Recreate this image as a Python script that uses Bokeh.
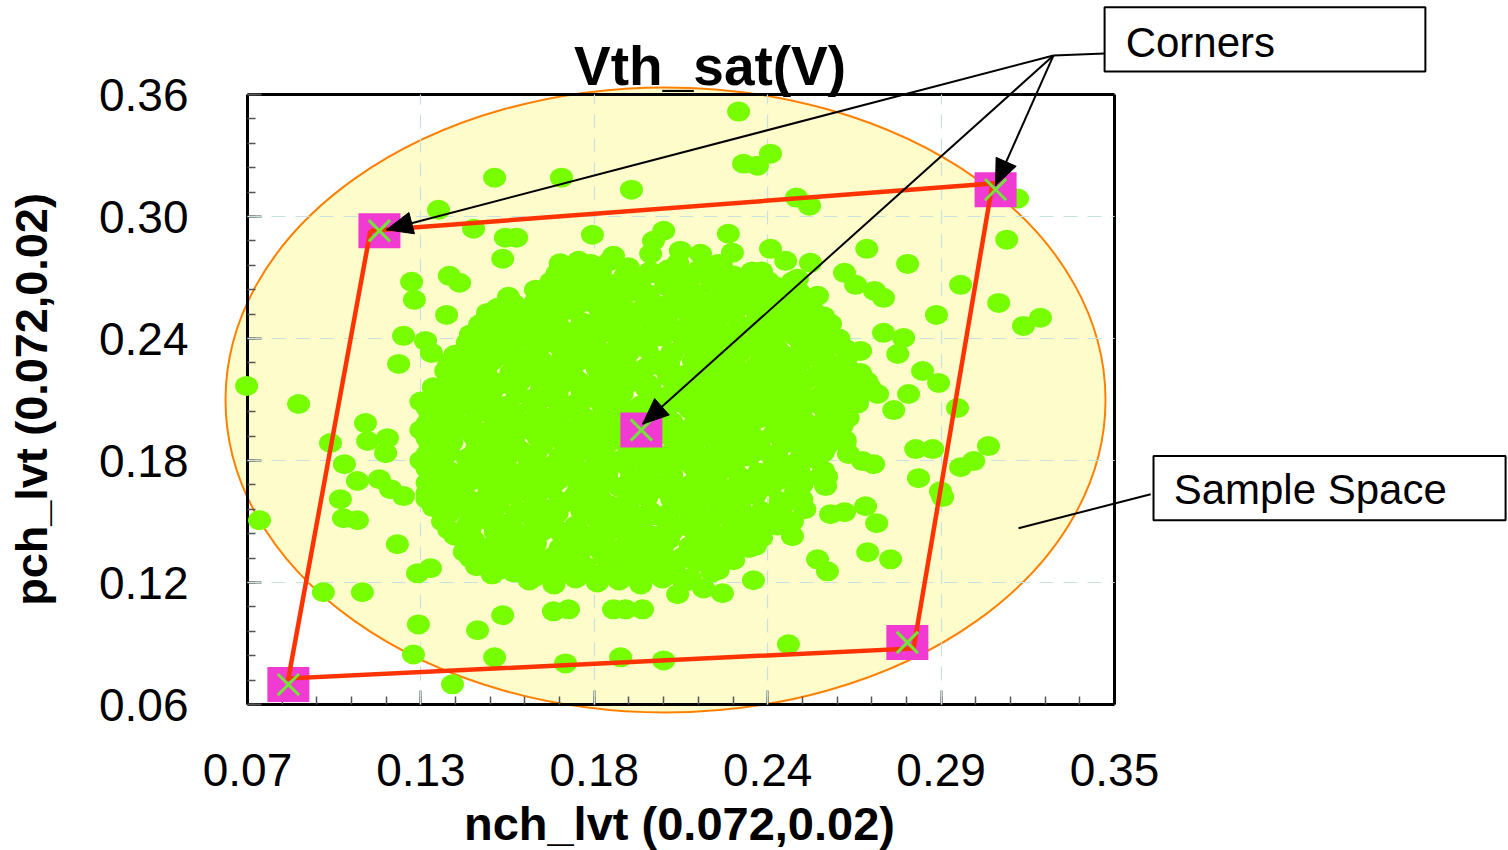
from bokeh.plotting import figure
from bokeh.models import Range1d, FixedTicker, LinearAxis, Grid
from bokeh.core.properties import value
from bokeh.embed import file_html
from bokeh.resources import INLINE

FONT = "Liberation Sans"

title_text = "Vth_sat(V)"
x_label = "nch_lvt (0.072,0.02)"
y_label = "pch_lvt (0.072,0.02)"

x_ticks = [0.07, 0.126, 0.182, 0.238, 0.294, 0.35]
x_tick_labels = ["0.07", "0.13", "0.18", "0.24", "0.29", "0.35"]
y_ticks = [0.06, 0.12, 0.18, 0.24, 0.30, 0.36]
y_tick_labels = ["0.06", "0.12", "0.18", "0.24", "0.30", "0.36"]

# dense central cloud of samples (read row by row)
core_nch = [
    0.171, 0.179, 0.187, 0.193, 0.200, 0.209, 0.216, 0.223, 0.236,
    0.168, 0.176, 0.183, 0.189, 0.197, 0.205, 0.211, 0.218, 0.226, 0.232, 0.240, 0.246,
    0.165, 0.172, 0.180, 0.186, 0.194, 0.200, 0.208, 0.214, 0.222, 0.229, 0.236, 0.244, 0.250,
    0.155, 0.161, 0.169, 0.175, 0.183, 0.190, 0.197, 0.204, 0.211, 0.218, 0.226, 0.232, 0.240, 0.246, 0.253,
    0.145, 0.151, 0.158, 0.165, 0.172, 0.179, 0.186, 0.193, 0.201, 0.207, 0.215, 0.222, 0.229, 0.236, 0.243, 0.250, 0.257,
    0.141, 0.147, 0.154, 0.162, 0.168, 0.176, 0.182, 0.190, 0.197, 0.204, 0.211, 0.218, 0.225, 0.232, 0.240, 0.247, 0.254, 0.261,
    0.137, 0.144, 0.150, 0.158, 0.165, 0.172, 0.179, 0.187, 0.193, 0.201, 0.207, 0.215, 0.222, 0.229, 0.236, 0.243, 0.250, 0.257, 0.264,
    0.134, 0.140, 0.147, 0.155, 0.161, 0.169, 0.175, 0.183, 0.190, 0.197, 0.204, 0.211, 0.218, 0.225, 0.233, 0.239, 0.247, 0.254, 0.261, 0.268,
    0.130, 0.137, 0.143, 0.151, 0.158, 0.165, 0.172, 0.179, 0.186, 0.193, 0.200, 0.208, 0.214, 0.222, 0.229, 0.236, 0.243, 0.250, 0.257, 0.264, 0.271,
    0.126, 0.133, 0.140, 0.147, 0.154, 0.162, 0.168, 0.176, 0.183, 0.190, 0.197, 0.204, 0.211, 0.218, 0.225, 0.232, 0.239, 0.247, 0.254, 0.261, 0.267,
    0.129, 0.137, 0.144, 0.151, 0.158, 0.165, 0.172, 0.179, 0.186, 0.193, 0.201, 0.207, 0.215, 0.222, 0.229, 0.236, 0.243, 0.250, 0.257, 0.264,
    0.126, 0.133, 0.140, 0.147, 0.155, 0.161, 0.169, 0.176, 0.183, 0.190, 0.197, 0.204, 0.211, 0.218, 0.225, 0.232, 0.240, 0.246, 0.254, 0.261,
    0.129, 0.136, 0.144, 0.150, 0.158, 0.165, 0.172, 0.180, 0.186, 0.193, 0.200, 0.208, 0.214, 0.221, 0.229, 0.236, 0.243, 0.250, 0.257, 0.263,
    0.126, 0.133, 0.141, 0.147, 0.154, 0.161, 0.169, 0.175, 0.183, 0.190, 0.197, 0.204, 0.211, 0.219, 0.225, 0.232, 0.240, 0.246, 0.253,
    0.130, 0.136, 0.144, 0.151, 0.158, 0.165, 0.172, 0.179, 0.186, 0.194, 0.200, 0.207, 0.215, 0.222, 0.229, 0.236, 0.243, 0.250, 0.257,
    0.128, 0.133, 0.140, 0.148, 0.154, 0.161, 0.168, 0.176, 0.182, 0.190, 0.197, 0.204, 0.211, 0.218, 0.225, 0.233, 0.239, 0.247,
    0.130, 0.137, 0.143, 0.151, 0.158, 0.165, 0.172, 0.179, 0.187, 0.193, 0.200, 0.208, 0.215, 0.222, 0.229, 0.236, 0.243, 0.250,
    0.133, 0.141, 0.147, 0.154, 0.162, 0.168, 0.176, 0.183, 0.190, 0.197, 0.204, 0.211, 0.218, 0.226, 0.232, 0.239, 0.246,
    0.137, 0.143, 0.151, 0.158, 0.165, 0.172, 0.179, 0.186, 0.193, 0.201, 0.207, 0.215, 0.222, 0.229, 0.236,
    0.140, 0.147, 0.155, 0.161, 0.169, 0.175, 0.183, 0.190, 0.197, 0.204, 0.211, 0.218, 0.225, 0.232,
    0.144, 0.151, 0.158, 0.165, 0.172, 0.179, 0.186, 0.193, 0.201, 0.208, 0.215, 0.222,
    0.161, 0.169, 0.176, 0.183, 0.190, 0.197, 0.204, 0.211,
]
core_pch = [
    0.277, 0.274, 0.278, 0.275, 0.273, 0.277, 0.274, 0.276, 0.273,
    0.268, 0.266, 0.270, 0.267, 0.269, 0.266, 0.268, 0.271, 0.267, 0.269, 0.266, 0.268,
    0.261, 0.259, 0.262, 0.260, 0.263, 0.259, 0.261, 0.262, 0.260, 0.263, 0.259, 0.261, 0.260,
    0.253, 0.255, 0.252, 0.254, 0.256, 0.253, 0.254, 0.252, 0.255, 0.253, 0.254, 0.256, 0.252, 0.254, 0.253,
    0.247, 0.245, 0.248, 0.246, 0.244, 0.247, 0.245, 0.246, 0.248, 0.245, 0.247, 0.244, 0.246, 0.248, 0.245, 0.247, 0.246,
    0.238, 0.240, 0.237, 0.239, 0.241, 0.238, 0.240, 0.239, 0.237, 0.241, 0.239, 0.238, 0.240, 0.237, 0.239, 0.241, 0.238, 0.240,
    0.232, 0.230, 0.233, 0.231, 0.229, 0.232, 0.230, 0.231, 0.233, 0.230, 0.232, 0.229, 0.231, 0.233, 0.230, 0.232, 0.231, 0.229, 0.232,
    0.224, 0.222, 0.225, 0.223, 0.226, 0.224, 0.222, 0.225, 0.223, 0.224, 0.226, 0.222, 0.224, 0.225, 0.223, 0.226, 0.224, 0.222, 0.225, 0.223,
    0.216, 0.218, 0.215, 0.217, 0.219, 0.216, 0.218, 0.217, 0.215, 0.218, 0.216, 0.219, 0.217, 0.215, 0.218, 0.216, 0.217, 0.219, 0.216, 0.218, 0.216,
    0.209, 0.211, 0.208, 0.210, 0.207, 0.209, 0.211, 0.208, 0.210, 0.209, 0.207, 0.210, 0.208, 0.211, 0.209, 0.207, 0.210, 0.208, 0.211, 0.209, 0.208,
    0.202, 0.200, 0.203, 0.201, 0.199, 0.202, 0.204, 0.201, 0.200, 0.203, 0.201, 0.199, 0.202, 0.200, 0.203, 0.201, 0.202, 0.199, 0.203, 0.201,
    0.195, 0.193, 0.196, 0.194, 0.192, 0.195, 0.193, 0.196, 0.194, 0.192, 0.195, 0.193, 0.194, 0.196, 0.192, 0.195, 0.193, 0.194, 0.196, 0.193,
    0.187, 0.189, 0.186, 0.188, 0.185, 0.187, 0.189, 0.186, 0.188, 0.187, 0.185, 0.188, 0.186, 0.189, 0.187, 0.185, 0.188, 0.186, 0.187, 0.189,
    0.180, 0.178, 0.181, 0.179, 0.182, 0.180, 0.178, 0.181, 0.179, 0.180, 0.182, 0.178, 0.180, 0.181, 0.179, 0.182, 0.180, 0.178, 0.181,
    0.172, 0.174, 0.171, 0.173, 0.170, 0.172, 0.174, 0.171, 0.173, 0.172, 0.170, 0.173, 0.171, 0.174, 0.172, 0.170, 0.173, 0.171, 0.172,
    0.164, 0.166, 0.163, 0.165, 0.167, 0.164, 0.166, 0.163, 0.165, 0.167, 0.164, 0.166, 0.165, 0.163, 0.166, 0.164, 0.167, 0.165,
    0.157, 0.159, 0.156, 0.158, 0.155, 0.157, 0.159, 0.156, 0.158, 0.157, 0.155, 0.158, 0.156, 0.159, 0.157, 0.155, 0.158, 0.156,
    0.150, 0.148, 0.151, 0.149, 0.152, 0.150, 0.148, 0.151, 0.149, 0.150, 0.152, 0.148, 0.150, 0.151, 0.149, 0.152, 0.150,
    0.143, 0.141, 0.144, 0.142, 0.145, 0.143, 0.141, 0.144, 0.142, 0.143, 0.145, 0.141, 0.143, 0.144, 0.142,
    0.135, 0.137, 0.134, 0.136, 0.133, 0.135, 0.137, 0.134, 0.136, 0.135, 0.133, 0.136, 0.134, 0.137,
    0.128, 0.126, 0.129, 0.127, 0.130, 0.128, 0.126, 0.129, 0.127, 0.128, 0.130, 0.126,
    0.121, 0.119, 0.122, 0.120, 0.121, 0.119, 0.122, 0.120,
]

# second layer of the dense cloud (samples lying between the rows above)
mid_nch = [
    0.170, 0.178, 0.184, 0.192, 0.200, 0.206, 0.212, 0.221, 0.227, 0.233,
    0.163, 0.171, 0.177, 0.184, 0.192, 0.199, 0.207, 0.213, 0.220, 0.228, 0.234, 0.241, 0.248,
    0.156, 0.163, 0.171, 0.177, 0.185, 0.191, 0.199, 0.206, 0.214, 0.220, 0.227, 0.235, 0.241, 0.248,
    0.149, 0.156, 0.163, 0.170, 0.178, 0.184, 0.192, 0.199, 0.206, 0.213, 0.221, 0.227, 0.234, 0.242, 0.249, 0.256,
    0.142, 0.149, 0.157, 0.163, 0.170, 0.177, 0.185, 0.192, 0.199, 0.206, 0.213, 0.220, 0.227, 0.235, 0.241, 0.249, 0.256,
    0.142, 0.149, 0.156, 0.164, 0.170, 0.177, 0.184, 0.192, 0.199, 0.207, 0.213, 0.220, 0.228, 0.234, 0.241, 0.249, 0.256, 0.263,
    0.135, 0.142, 0.149, 0.156, 0.163, 0.171, 0.177, 0.185, 0.192, 0.199, 0.206, 0.214, 0.220, 0.227, 0.234, 0.242, 0.249, 0.256, 0.263,
    0.135, 0.142, 0.149, 0.156, 0.164, 0.170, 0.177, 0.184, 0.192, 0.199, 0.206, 0.213, 0.221, 0.227, 0.234, 0.241, 0.249, 0.256, 0.263, 0.270,
    0.135, 0.142, 0.149, 0.157, 0.163, 0.170, 0.178, 0.185, 0.191, 0.199, 0.206, 0.213, 0.220, 0.228, 0.234, 0.241, 0.248, 0.256, 0.263, 0.270,
    0.128, 0.135, 0.142, 0.149, 0.156, 0.163, 0.171, 0.177, 0.185, 0.192, 0.199, 0.206, 0.213, 0.220, 0.227, 0.235, 0.241, 0.249, 0.256, 0.263,
    0.128, 0.135, 0.142, 0.150, 0.156, 0.163, 0.170, 0.178, 0.185, 0.192, 0.199, 0.206, 0.214, 0.220, 0.227, 0.234, 0.241, 0.249, 0.256, 0.262,
    0.128, 0.135, 0.143, 0.149, 0.156, 0.164, 0.170, 0.177, 0.184, 0.192, 0.199, 0.207, 0.213, 0.220, 0.227, 0.234, 0.242, 0.249, 0.256, 0.263,
    0.128, 0.135, 0.142, 0.149, 0.157, 0.163, 0.171, 0.177, 0.185, 0.192, 0.199, 0.206, 0.213, 0.221, 0.227, 0.234, 0.241, 0.249, 0.256,
    0.128, 0.135, 0.142, 0.150, 0.156, 0.163, 0.170, 0.178, 0.184, 0.192, 0.199, 0.206, 0.214, 0.220, 0.227, 0.235, 0.241, 0.248, 0.256,
    0.128, 0.135, 0.142, 0.149, 0.156, 0.164, 0.170, 0.177, 0.185, 0.192, 0.199, 0.206, 0.213, 0.220, 0.228, 0.234, 0.241, 0.249,
    0.128, 0.135, 0.143, 0.149, 0.156, 0.163, 0.171, 0.177, 0.184, 0.192, 0.199, 0.207, 0.213, 0.220, 0.227, 0.234, 0.242, 0.249,
    0.135, 0.142, 0.149, 0.157, 0.163, 0.170, 0.178, 0.185, 0.192, 0.199, 0.206, 0.213, 0.221, 0.227, 0.234, 0.241,
    0.135, 0.142, 0.150, 0.156, 0.163, 0.170, 0.177, 0.184, 0.192, 0.199, 0.206, 0.214, 0.220, 0.227, 0.235, 0.241,
    0.142, 0.149, 0.156, 0.163, 0.171, 0.177, 0.185, 0.192, 0.199, 0.206, 0.213, 0.220, 0.227, 0.234,
    0.142, 0.149, 0.156, 0.164, 0.170, 0.177, 0.185, 0.192, 0.199, 0.206, 0.213, 0.220, 0.227,
    0.149, 0.156, 0.163, 0.170, 0.178, 0.184, 0.192, 0.199, 0.206, 0.213, 0.220,
]
mid_pch = [
    0.272, 0.270, 0.273, 0.271, 0.272, 0.274, 0.270, 0.272, 0.271, 0.273,
    0.264, 0.265, 0.263, 0.266, 0.264, 0.262, 0.265, 0.264, 0.266, 0.263, 0.265, 0.264, 0.263,
    0.257, 0.258, 0.256, 0.257, 0.259, 0.256, 0.258, 0.257, 0.255, 0.258, 0.256, 0.257, 0.259, 0.256,
    0.250, 0.249, 0.251, 0.250, 0.248, 0.251, 0.249, 0.250, 0.252, 0.249, 0.250, 0.251, 0.248, 0.250, 0.249, 0.251,
    0.242, 0.243, 0.241, 0.243, 0.244, 0.242, 0.243, 0.241, 0.242, 0.244, 0.243, 0.241, 0.242, 0.243, 0.244, 0.242, 0.243,
    0.235, 0.236, 0.234, 0.235, 0.237, 0.235, 0.234, 0.236, 0.235, 0.233, 0.236, 0.235, 0.234, 0.236, 0.235, 0.237, 0.234, 0.235,
    0.228, 0.227, 0.229, 0.228, 0.226, 0.228, 0.229, 0.227, 0.228, 0.226, 0.228, 0.229, 0.227, 0.228, 0.226, 0.228, 0.229, 0.227, 0.228,
    0.220, 0.221, 0.219, 0.220, 0.222, 0.220, 0.219, 0.221, 0.220, 0.218, 0.221, 0.220, 0.219, 0.221, 0.220, 0.222, 0.219, 0.220, 0.221, 0.219,
    0.213, 0.212, 0.214, 0.213, 0.211, 0.213, 0.214, 0.212, 0.213, 0.215, 0.212, 0.213, 0.214, 0.212, 0.213, 0.211, 0.214, 0.213, 0.212, 0.214,
    0.206, 0.205, 0.207, 0.206, 0.204, 0.206, 0.205, 0.207, 0.206, 0.204, 0.206, 0.207, 0.205, 0.206, 0.204, 0.206, 0.207, 0.205, 0.206, 0.204,
    0.198, 0.199, 0.197, 0.198, 0.200, 0.198, 0.197, 0.199, 0.198, 0.196, 0.199, 0.198, 0.197, 0.199, 0.198, 0.200, 0.197, 0.198, 0.199, 0.197,
    0.191, 0.190, 0.192, 0.191, 0.189, 0.191, 0.192, 0.190, 0.191, 0.189, 0.191, 0.192, 0.190, 0.191, 0.189, 0.191, 0.192, 0.190, 0.191, 0.190,
    0.183, 0.184, 0.182, 0.183, 0.185, 0.183, 0.182, 0.184, 0.183, 0.181, 0.184, 0.183, 0.182, 0.184, 0.183, 0.185, 0.182, 0.183, 0.184,
    0.176, 0.175, 0.177, 0.176, 0.174, 0.176, 0.177, 0.175, 0.176, 0.178, 0.175, 0.176, 0.177, 0.175, 0.176, 0.174, 0.177, 0.176, 0.175,
    0.169, 0.168, 0.170, 0.169, 0.167, 0.169, 0.170, 0.168, 0.169, 0.167, 0.169, 0.170, 0.168, 0.169, 0.167, 0.169, 0.170, 0.168,
    0.161, 0.162, 0.160, 0.161, 0.163, 0.161, 0.160, 0.162, 0.161, 0.159, 0.162, 0.161, 0.160, 0.162, 0.161, 0.163, 0.160, 0.161,
    0.154, 0.153, 0.155, 0.154, 0.152, 0.154, 0.155, 0.153, 0.154, 0.152, 0.154, 0.155, 0.153, 0.154, 0.152, 0.154,
    0.146, 0.147, 0.145, 0.146, 0.148, 0.146, 0.145, 0.147, 0.146, 0.144, 0.147, 0.146, 0.145, 0.147, 0.146, 0.148,
    0.139, 0.138, 0.140, 0.139, 0.137, 0.139, 0.140, 0.138, 0.139, 0.141, 0.138, 0.139, 0.140, 0.138,
    0.132, 0.131, 0.133, 0.132, 0.130, 0.132, 0.133, 0.131, 0.132, 0.130, 0.132, 0.133, 0.131,
    0.124, 0.125, 0.123, 0.124, 0.126, 0.124, 0.123, 0.125, 0.124, 0.122, 0.125,
]

# scattered samples around the cloud
tail_nch = [
    0.2286, 0.2389, 0.2302, 0.2347, 0.1498, 0.1714, 0.1940, 0.2473, 0.2515, 0.1317,
    0.3187, 0.1430, 0.1533, 0.1569, 0.1814, 0.3152, 0.2700, 0.2832, 0.1524, 0.1230,
    0.1352, 0.1385, 0.1239, 0.1543, 0.1343, 0.1204, 0.1275, 0.1294, 0.1188, 0.1453,
    0.1475, 0.1508, 0.1533, 0.1411, 0.0697, 0.0865,
    0.2628, 0.2664, 0.2725, 0.2754, 0.3003, 0.3126, 0.3261, 0.3206, 0.2925, 0.2754,
    0.2819, 0.2800, 0.2880, 0.2932, 0.2835, 0.2993, 0.2787, 0.2593, 0.2858, 0.2913,
    0.3093, 0.2641, 0.2686, 0.2722, 0.3045, 0.3003, 0.2867, 0.2938, 0.2945, 0.2567,
    0.2696, 0.2628, 0.2583, 0.2732, 0.2460, 0.2703, 0.2777, 0.2541, 0.2573, 0.2334,
    0.2234, 0.2089, 0.2173, 0.2447, 0.2044,
    0.1081, 0.0968, 0.1088, 0.1152, 0.1146, 0.1013, 0.1055, 0.1126, 0.1162, 0.1204,
    0.1000, 0.1010, 0.1055, 0.0739, 0.1184, 0.1249, 0.1291, 0.0945, 0.1071, 0.1252,
    0.1443, 0.1524, 0.1688, 0.1737, 0.1882, 0.1921, 0.1976, 0.1236, 0.1498, 0.1727,
    0.1905, 0.1362,
    0.1769, 0.1808, 0.1882, 0.2011, 0.2044, 0.2002, 0.2098, 0.2163, 0.2253, 0.2266,
    0.2389, 0.2438, 0.2518, 0.2221, 0.1734, 0.1646, 0.1688, 0.1604, 0.2476, 0.2380,
    0.2541, 0.2583, 0.2606, 0.2680, 0.2638, 0.2690, 0.2735,
]
tail_pch = [
    0.3516, 0.3309, 0.3260, 0.3250, 0.3191, 0.3191, 0.3132, 0.3093, 0.3053, 0.3033,
    0.3088, 0.2940, 0.2896, 0.2896, 0.2910, 0.2886, 0.2841, 0.2767, 0.2792, 0.2679,
    0.2708, 0.2674, 0.2590, 0.2605, 0.2516, 0.2413, 0.2388, 0.2329, 0.2275, 0.2428,
    0.2526, 0.2551, 0.2388, 0.2240, 0.2167, 0.2078,
    0.2723, 0.2664, 0.2634, 0.2600, 0.2664, 0.2575, 0.2502, 0.2462, 0.2516, 0.2428,
    0.2403, 0.2324, 0.2240, 0.2181, 0.2127, 0.2058, 0.2048, 0.1910, 0.1856, 0.1856,
    0.1871, 0.1832, 0.1797, 0.1782, 0.1797, 0.1767, 0.1713, 0.1649, 0.1620, 0.1674,
    0.1575, 0.1546, 0.1536, 0.1492, 0.1428, 0.1349, 0.1314, 0.1314, 0.1255, 0.1211,
    0.1147, 0.1142, 0.1171, 0.0896, 0.0817,
    0.1984, 0.1886, 0.1896, 0.1910, 0.1836, 0.1782, 0.1699, 0.1708, 0.1659, 0.1625,
    0.1610, 0.1516, 0.1506, 0.1506, 0.1388, 0.1245, 0.1270, 0.1152, 0.1152, 0.0994,
    0.0965, 0.1039, 0.1058, 0.1068, 0.1068, 0.1068, 0.1068, 0.0846, 0.0832, 0.0802,
    0.0832, 0.0699,
    0.2782, 0.2767, 0.2807, 0.2881, 0.2930, 0.2817, 0.2832, 0.2817, 0.2915, 0.2822,
    0.2841, 0.2782, 0.2772, 0.2767, 0.2723, 0.2575, 0.2526, 0.2502, 0.2694, 0.2684,
    0.2610, 0.2472, 0.2373, 0.2339, 0.2255, 0.2191, 0.2127,
]

# corners (TL, TR, BR, BL, nominal)
corner_nch = [0.1126, 0.3116, 0.2831, 0.0832, 0.1972]
corner_pch = [0.2930, 0.3132, 0.0905, 0.0698, 0.1950]
# corner polygon
hull_nch = [0.1097, 0.3106, 0.2851, 0.0832, 0.1097]
hull_pch = [0.2930, 0.3162, 0.0876, 0.0728, 0.2930]

# sample-space ellipse
space_nch = [0.205]
space_pch = [0.2098]
space_w = [0.2842]
space_h = [0.3074]

assert len(core_nch) == len(core_pch)
assert len(mid_nch) == len(mid_pch)
assert len(tail_nch) == len(tail_pch)
all_nch = core_nch + mid_nch + tail_nch
all_pch = core_pch + mid_pch + tail_pch

X0, X1, Y0, Y1 = 0.07, 0.35, 0.06, 0.36
FW, FH = 867, 610
SX = FW / (X1 - X0)   # screen px per data unit
SY = FH / (Y1 - Y0)

x_step = (x_ticks[1] - x_ticks[0]) / 5
x_minor = [x_ticks[0] + i * x_step for i in range(26)]
y_step = (y_ticks[1] - y_ticks[0]) / 5
y_minor = [y_ticks[0] + i * y_step for i in range(26)]

p = figure(frame_width=FW, frame_height=FH,
           x_range=Range1d(X0, X1), y_range=Range1d(Y0, Y1),
           x_axis_type=None, y_axis_type=None,
           output_backend="svg", toolbar_location=None,
           min_border_left=247, min_border_right=394, min_border_top=94, min_border_bottom=146,
           outline_line_color=None, background_fill_color="white", border_fill_color="white")

xaxis = LinearAxis(ticker=FixedTicker(ticks=x_ticks, minor_ticks=x_minor),
                   major_label_overrides=dict(zip(x_ticks, x_tick_labels)))
yaxis = LinearAxis(ticker=FixedTicker(ticks=y_ticks, minor_ticks=y_minor),
                   major_label_overrides=dict(zip(y_ticks, y_tick_labels)),
                   axis_label=y_label)
for ax in (xaxis, yaxis):
    ax.axis_line_width = 3
    ax.axis_line_color = "black"
    ax.major_tick_in = 14
    ax.major_tick_out = 0
    ax.minor_tick_in = 8
    ax.minor_tick_out = 0
    ax.major_tick_line_color = "#555555"
    ax.major_tick_line_width = 2
    ax.minor_tick_line_color = "#555555"
    ax.minor_tick_line_width = 1.5
    ax.major_label_text_font = FONT
    ax.major_label_text_font_size = "46px"
    ax.major_label_text_color = "black"
    ax.axis_label_text_font = FONT
    ax.axis_label_text_font_style = "bold"
    ax.axis_label_text_color = "black"
xaxis.major_label_standoff = 49
yaxis.major_label_standoff = 59
yaxis.axis_label_standoff = 39
yaxis.axis_label_text_font_size = "45px"
p.add_layout(xaxis, "below")
p.add_layout(yaxis, "left")

for place in ("above", "right"):
    edge = LinearAxis(ticker=FixedTicker(ticks=[]), axis_line_width=3, axis_line_color="black",
                      major_tick_in=0, major_tick_out=0, minor_tick_in=0, minor_tick_out=0,
                      major_label_text_font_size="0px")
    p.add_layout(edge, place)

# sample space ellipse (drawn unclipped so it may spill over the frame)
p.ellipse(x=space_nch, y=space_pch, width=space_w, height=space_h,
          fill_color="#fffccc", line_color="#ff8000", line_width=2, level="guide")

for dim, ax in ((0, xaxis), (1, yaxis)):
    g = Grid(dimension=dim, ticker=ax.ticker, grid_line_color="#c8e2e2",
             grid_line_dash="14 10", grid_line_width=1.2, level="guide")
    p.add_layout(g, "center")

p.ellipse(x=all_nch, y=all_pch, width=23, height=20, width_units="screen", height_units="screen",
          fill_color="#77ff00", line_color=None, level="annotation")
p.rect(x=corner_nch, y=corner_pch, width=42, height=35, width_units="screen", height_units="screen",
       fill_color="#f03ad2", line_color=None, level="annotation")
p.line(x=hull_nch, y=hull_pch, line_color="#ff3300", line_width=4.5, line_join="miter", level="annotation")
p.scatter(x=corner_nch, y=corner_pch, marker="x", size=30, line_color="#72e43a", line_width=3,
          level="annotation")

# ---- callouts (drawn as unclipped glyphs) ----
def head(x0, y0, x1, y1, length=26, width=22):
    dx = (x1 - x0) * SX
    dy = (y1 - y0) * SY
    L = (dx * dx + dy * dy) ** 0.5
    ux, uy = dx / L, dy / L
    bx, by = -ux * length, -uy * length
    nx, ny = -uy * width / 2, ux * width / 2
    return ([x1, x1 + (bx + nx) / SX, x1 + (bx - nx) / SX],
            [y1, y1 + (by + ny) / SY, y1 + (by - ny) / SY])

jx, jy = 0.3303, 0.3792
tips = [(0.1149, 0.2935), (0.1976, 0.1979), (0.3116, 0.3152)]
seg_x0 = [jx, jx, jx, jx, 0.3617]
seg_y0 = [jy, jy, jy, jy, 0.1634]
seg_x1 = [0.3468] + [t[0] for t in tips] + [0.3190]
seg_y1 = [0.3802] + [t[1] for t in tips] + [0.1467]
p.segment(x0=seg_x0, y0=seg_y0, x1=seg_x1, y1=seg_y1, line_color="black", line_width=2,
          level="annotation")
hx, hy = [], []
for ex, ey in tips:
    a, b = head(jx, jy, ex, ey)
    hx.append(a)
    hy.append(b)
p.patches(xs=hx, ys=hy, fill_color="black", line_color="black", line_width=1, level="annotation")

# boxes
p.quad(left=[0.3468, 0.3626], right=[0.4504, 0.4763], top=[0.4029, 0.1822], bottom=[0.3713, 0.1506],
       fill_color="white", line_color="black", line_width=2, level="annotation")
p.text(x=[0.3536, 0.3691], y=[0.3855, 0.1658], text=["Corners", "Sample Space"],
       text_font=value(FONT), text_font_size=value("42px"), text_color="black",
       text_align="left", text_baseline="middle", level="annotation")

# title and x-axis title
p.text(x=[0.2194], y=[0.3739], text=[title_text], text_font=value(FONT), text_font_size=value("55px"),
       text_font_style="bold", text_color="black", text_align="center", text_baseline="middle",
       level="annotation")
p.text(x=[0.2095], y=[0.0016], text=[x_label], text_font=value(FONT), text_font_size=value("47px"),
       text_font_style="bold", text_color="black", text_align="center", text_baseline="middle",
       level="annotation")

open("out.html", "w").write(file_html(p, INLINE))
